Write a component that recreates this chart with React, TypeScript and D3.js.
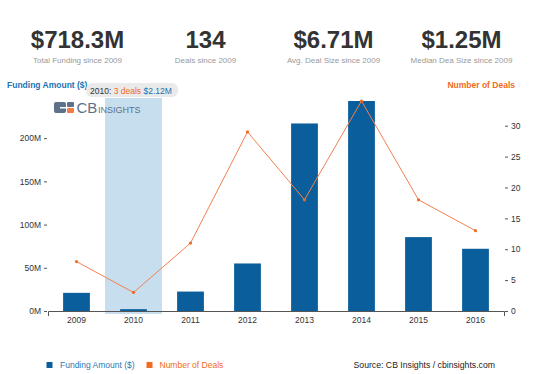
import React, { useEffect, useRef } from 'react'
import * as d3 from 'd3'

// values
const years = ['2009', '2010', '2011', '2012', '2013', '2014', '2015', '2016']
const funding = [21, 2.12, 22.5, 55, 217, 243, 85.5, 72] // $M
const deals = [8, 3, 11, 29, 18, 34, 18, 13]
const fundingTicks = [0, 50, 100, 150, 200]
const dealTicks = [0, 5, 10, 15, 20, 25, 30]

const statValues = ['$718.3M', '134', '$6.71M', '$1.25M']
const statLabels = ['Total Funding since 2009', 'Deals since 2009', 'Avg. Deal Size since 2009', 'Median Dea Size since 2009']

const W = 533, H = 374
const FONT = '"Liberation Sans", Arial, Helvetica, sans-serif'
const BLUE = '#0a5e9b'
const BLUE_TEXT = '#1b72b4'
const ORANGE = '#f26a21'
const LINE = '#f4804f'
const SLATE = '#5f7189'

export default function App() {
  const leftRef = useRef<SVGGElement>(null)
  const rightRef = useRef<SVGGElement>(null)
  const bottomRef = useRef<SVGGElement>(null)

  const x = d3.scaleBand().domain(years).range([48, 504])
  const yL = d3.scaleLinear().domain([0, d3.max(funding) as number]).range([311, 101])
  const yR = d3.scaleLinear().domain([0, d3.max(deals) as number]).range([311, 101])
  const barW = x.bandwidth() * 0.47

  const line = d3.line<number>()
    .x((d, i) => (x(years[i]) as number) + x.bandwidth() / 2)
    .y(d => yR(d))

  useEffect(() => {
    const left = d3.select(leftRef.current!)
    left.call(d3.axisLeft(yL).tickValues(fundingTicks).tickFormat(d => d + 'M').tickSize(3).tickPadding(3) as any)
    left.select('.domain').remove()

    const right = d3.select(rightRef.current!)
    right.call(d3.axisRight(yR).tickValues(dealTicks).tickSize(3).tickPadding(3) as any)
    right.select('.domain').remove()

    const bottom = d3.select(bottomRef.current!)
    bottom.call(d3.axisBottom(x).tickSizeInner(0).tickSizeOuter(5).tickPadding(6) as any)

    ;[left, right, bottom].forEach(g => {
      g.attr('font-family', FONT).attr('font-size', 8.5)
      g.selectAll('text').attr('fill', '#333')
      g.selectAll('line,path').attr('stroke', '#555')
    })
  }, [])

  const band2010 = x('2010') as number

  return (
    <svg width={W} height={H} style={{ position: 'absolute', left: 0, top: 0, background: '#fff' }} fontFamily={FONT}>
      {/* summary numbers */}
      {statValues.map((v, i) => (
        <g key={v} transform={`translate(${77.5 + i * 128},0)`}>
          <text y={48} textAnchor="middle" fontSize={24} fontWeight="bold" fill="#333">{v}</text>
          <text y={63} textAnchor="middle" fontSize={8} fill="#999">{statLabels[i]}</text>
        </g>
      ))}

      <text x={7} y={88} fontSize={8.5} fontWeight="bold" fill={BLUE_TEXT}>Funding Amount ($)</text>
      <text x={515} y={88} textAnchor="end" fontSize={8.5} fontWeight="bold" fill={ORANGE}>Number of Deals</text>

      {/* hovered year */}
      <rect x={band2010} y={98} width={x.bandwidth()} height={216} fill="#c6deee" />

      {/* logo */}
      <g>
        <rect x={54} y={102} width={12} height={11} rx={2} fill={SLATE} />
        <rect x={60} y={107} width={6} height={1.5} fill="#fff" />
        <rect x={67} y={102} width={7} height={5} rx={1} fill={SLATE} />
        <rect x={67} y={108} width={7} height={5} rx={1} fill="#f47b46" />
        <text x={76.5} y={113} fontSize={15} fill={SLATE}>CB</text>
        <text x={98} y={113} fontSize={9} fill={SLATE}>INSIGHTS</text>
      </g>

      {funding.map((v, i) => (
        <rect key={years[i]}
          x={(x(years[i]) as number) + (x.bandwidth() - barW) / 2}
          y={yL(v)} width={barW} height={yL(0) - yL(v)} fill={BLUE} />
      ))}

      <path d={line(deals) as string} fill="none" stroke={LINE} strokeWidth={1} />
      {deals.map((v, i) => (
        <circle key={years[i]} cx={(x(years[i]) as number) + x.bandwidth() / 2} cy={yR(v)} r={1.6} fill={ORANGE} />
      ))}

      <g ref={leftRef} transform="translate(47,0)" />
      <g ref={rightRef} transform="translate(505,0)" />
      <g ref={bottomRef} transform="translate(0,311)" />

      {/* tooltip */}
      <rect x={86} y={83} width={92} height={14} rx={6} fill="#e9e9e9" opacity={0.95} />
      <text x={90} y={93.5} fontSize={8.5} fill="#333">
        2010: <tspan fill={ORANGE}>3 deals</tspan> <tspan fill={BLUE_TEXT}>$2.12M</tspan>
      </text>

      {/* legend */}
      <rect x={46.5} y={362} width={6} height={6} fill={BLUE} />
      <text x={60} y={368} fontSize={8.5} fill="#2979b5">Funding Amount ($)</text>
      <rect x={146.5} y={362} width={6} height={6} fill={ORANGE} />
      <text x={159.5} y={368} fontSize={8.5} fill={ORANGE}>Number of Deals</text>
      <text x={495} y={368} textAnchor="end" fontSize={8.7} fill="#222">Source: CB Insights / cbinsights.com</text>
    </svg>
  )
}
